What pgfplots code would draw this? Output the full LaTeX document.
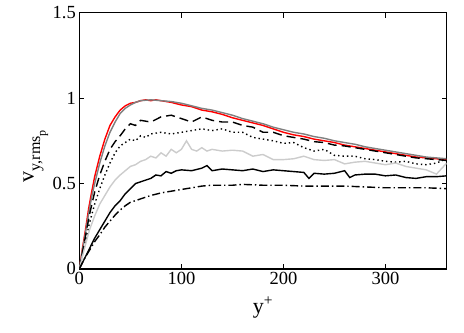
\documentclass[border=0pt]{standalone}
\usepackage{fontspec}
\setmainfont{Liberation Serif}
\usepackage{pgfplots}
\pgfplotsset{compat=1.18}
\begin{document}
\begin{tikzpicture}
\begin{axis}[
  name=ax,
  scale only axis,
  width=367pt, height=256pt,
  xmin=0, xmax=360, ymin=0, ymax=1.5,
  xtick={0,100,200,300}, ytick={0,0.5,1,1.5},
  yticklabels={0,0.5,1,1.5},
  tick align=inside,
  major tick length=5pt,
  axis line style={line width=1.3pt},
  every tick/.style={black, line width=1pt},
  /pgf/number format/assume math mode=true,
  ticklabel style={font=\fontsize{18.5}{22}\selectfont},
  xlabel={y\textsuperscript{+}},
  ylabel={v\raisebox{-0.3em}{\fontsize{16}{16}\selectfont y,rms\raisebox{-0.35em}{\fontsize{12}{12}\selectfont p}}},
  every axis x label/.style={at={(axis description cs:0.5,-0.095)}, anchor=north, font=\fontsize{22}{26}\selectfont},
  every axis y label/.style={at={(axis description cs:-0.075,0.44)}, anchor=south, rotate=90, font=\fontsize{22}{26}\selectfont},
  every axis plot/.append style={line width=1.4pt},
]
% red
\addplot[red] coordinates {(0,0) (3,0.12) (6,0.23) (9,0.35) (12,0.45) (15,0.54) (20,0.66) (25,0.76) (30,0.84) (35,0.89) (40,0.93) (45,0.955) (50,0.97) (55,0.975) (60,0.985) (65,0.99) (70,0.985) (75,0.99) (80,0.985) (90,0.975) (100,0.96) (110,0.95) (120,0.93) (130,0.92) (140,0.905) (150,0.885) (160,0.87) (170,0.855) (180,0.84) (190,0.82) (200,0.80) (210,0.785) (220,0.775) (230,0.76) (240,0.75) (250,0.74) (260,0.725) (270,0.715) (280,0.705) (290,0.695) (300,0.685) (310,0.675) (320,0.665) (330,0.655) (340,0.65) (350,0.645) (360,0.64)};
% dark gray
\addplot[color=black!50] coordinates {(0,0) (3,0.11) (6,0.21) (9,0.32) (12,0.42) (15,0.50) (20,0.62) (25,0.72) (30,0.80) (35,0.86) (40,0.91) (45,0.94) (50,0.96) (55,0.975) (60,0.985) (70,0.99) (80,0.985) (90,0.98) (100,0.97) (110,0.955) (120,0.94) (130,0.93) (140,0.915) (150,0.90) (160,0.88) (170,0.865) (180,0.85) (190,0.83) (200,0.815) (210,0.80) (220,0.79) (230,0.775) (240,0.765) (250,0.75) (260,0.74) (270,0.73) (280,0.715) (290,0.705) (300,0.695) (310,0.685) (320,0.675) (330,0.665) (340,0.655) (350,0.65) (360,0.645)};
% dashed
\addplot[black, dash pattern=on 9pt off 5pt] coordinates {(0,0) (5,0.16) (10,0.32) (15,0.45) (20,0.55) (25,0.63) (30,0.70) (35,0.745) (40,0.78) (45,0.82) (50,0.85) (55,0.84) (60,0.87) (70,0.86) (80,0.89) (90,0.90) (100,0.88) (110,0.86) (120,0.89) (130,0.87) (140,0.86) (150,0.86) (160,0.84) (170,0.83) (180,0.80) (190,0.80) (200,0.78) (210,0.77) (220,0.76) (230,0.745) (240,0.74) (250,0.725) (260,0.72) (270,0.71) (280,0.70) (290,0.69) (300,0.68) (310,0.67) (320,0.66) (330,0.65) (340,0.645) (350,0.64) (360,0.635)};
% dotted
\addplot[black, dash pattern=on 1.4pt off 3pt] coordinates {(0,0) (5,0.14) (10,0.27) (15,0.38) (20,0.47) (25,0.55) (30,0.62) (35,0.68) (40,0.72) (45,0.74) (50,0.76) (55,0.75) (60,0.78) (65,0.77) (70,0.79) (80,0.80) (90,0.79) (100,0.80) (110,0.81) (120,0.82) (130,0.81) (140,0.82) (150,0.80) (160,0.80) (170,0.77) (180,0.76) (190,0.75) (200,0.735) (210,0.74) (220,0.71) (230,0.69) (240,0.70) (250,0.665) (260,0.66) (270,0.66) (280,0.645) (290,0.64) (300,0.63) (310,0.625) (320,0.63) (330,0.615) (340,0.61) (350,0.62) (360,0.645)};
% light gray
\addplot[color=black!20] coordinates {(0,0) (5,0.12) (10,0.23) (15,0.31) (20,0.38) (25,0.43) (30,0.48) (35,0.52) (40,0.55) (45,0.575) (50,0.60) (55,0.61) (60,0.63) (65,0.64) (70,0.66) (75,0.65) (80,0.68) (85,0.66) (90,0.70) (95,0.68) (100,0.70) (105,0.75) (110,0.70) (115,0.69) (120,0.71) (125,0.69) (130,0.70) (140,0.69) (150,0.695) (160,0.69) (170,0.66) (180,0.67) (190,0.64) (200,0.64) (210,0.645) (220,0.66) (230,0.64) (240,0.635) (250,0.64) (260,0.615) (270,0.625) (280,0.63) (290,0.62) (300,0.61) (310,0.62) (320,0.60) (330,0.59) (340,0.58) (350,0.555) (360,0.62)};
% solid black
\addplot[black] coordinates {(0,0) (5,0.06) (10,0.12) (15,0.18) (20,0.23) (25,0.28) (30,0.33) (35,0.37) (40,0.40) (45,0.44) (50,0.47) (55,0.50) (60,0.51) (65,0.52) (70,0.53) (75,0.55) (80,0.545) (85,0.57) (90,0.56) (95,0.575) (100,0.58) (110,0.575) (120,0.59) (125,0.605) (130,0.575) (140,0.585) (150,0.58) (160,0.575) (170,0.585) (180,0.57) (190,0.58) (200,0.575) (210,0.57) (220,0.565) (225,0.53) (230,0.56) (240,0.555) (250,0.56) (260,0.575) (265,0.535) (270,0.55) (280,0.555) (290,0.555) (300,0.545) (310,0.55) (320,0.535) (330,0.53) (340,0.54) (350,0.54) (360,0.545)};
% dash-dot
\addplot[black, dash pattern=on 8pt off 3pt on 1.4pt off 3pt] coordinates {(0,0) (5,0.06) (10,0.11) (15,0.16) (20,0.20) (25,0.245) (30,0.28) (35,0.315) (40,0.345) (45,0.37) (50,0.39) (60,0.41) (70,0.43) (80,0.445) (90,0.455) (100,0.465) (110,0.475) (120,0.485) (130,0.49) (140,0.49) (150,0.49) (160,0.495) (180,0.49) (200,0.49) (220,0.485) (240,0.485) (260,0.485) (280,0.48) (300,0.475) (320,0.475) (340,0.475) (360,0.47)};
\end{axis}
\path[use as bounding box] ([shift={(-79.3pt,-63.3pt)}]ax.south west) rectangle ([shift={(17.3pt,12.7pt)}]ax.north east);
\end{tikzpicture}
\end{document}
